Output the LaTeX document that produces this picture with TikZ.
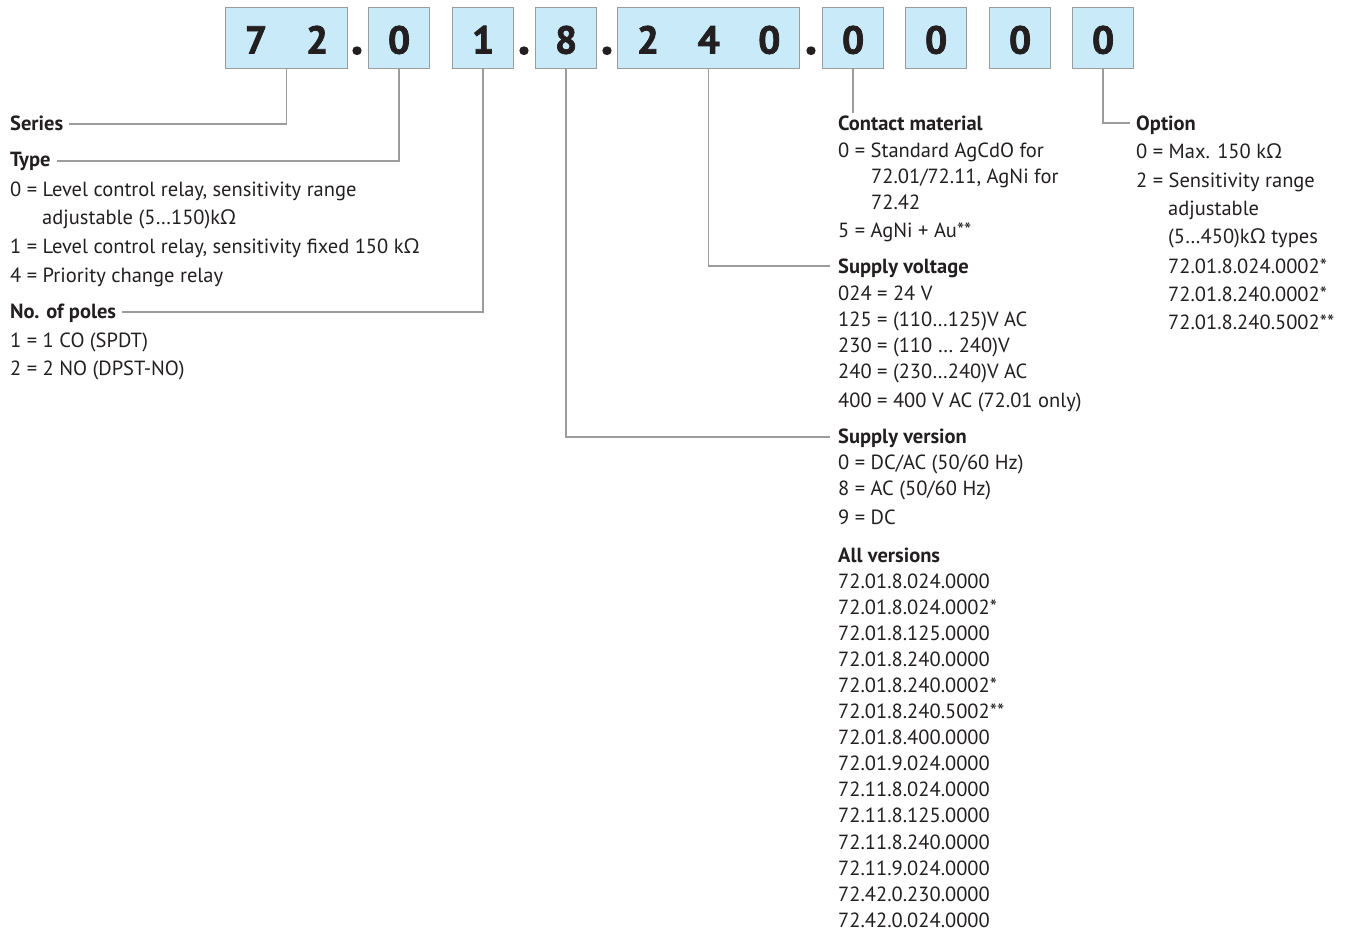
\documentclass[tikz,border=0pt]{standalone}
\usepackage{fontspec}
\setmainfont{PT Sans}
\newfontfamily\grkfont{Open Sans}
\newfontfamily\digfont{PT Sans}[BoldFeatures={FakeBold=2}]
\newcommand\Om{{\grkfont Ω}}
\usetikzlibrary{calc}
\definecolor{ink}{HTML}{231F20}
\definecolor{boxfill}{HTML}{C8EAF9}
\definecolor{boxline}{HTML}{9C9C9C}
\definecolor{conncol}{HTML}{9C9C9C}
\begin{document}
\begin{tikzpicture}[x=1pt,y=-1pt,
  txt/.style={anchor=base west, inner sep=0pt, text=ink, font=\fontsize{20.5}{24}\selectfont},
  hd/.style={txt, font=\fontsize{20.5}{24}\selectfont\bfseries},
  cell/.style={draw=boxline, fill=boxfill, line width=1.2pt, inner sep=0pt,
    minimum height=61pt, text height=31pt, text depth=0pt, text=ink,
    font=\digfont\fontsize{39}{39}\selectfont\bfseries, anchor=north west},
  sep/.style={anchor=base, inner sep=0pt, text=ink, font=\digfont\fontsize{50}{50}\selectfont\bfseries},
  conn/.style={draw=conncol, line width=1.3pt}]
\useasboundingbox (0,0) rectangle (1349,932);

% code boxes
\node[cell] (b72)  at (225,7) {\makebox[61pt]{7}\makebox[61pt]{2}};
\node[sep]  (d1)   at (357,54) {.};
\node[cell] (b0)   at (368,7) {\makebox[61pt]{0}};
\node[cell] (b1)   at (452,7) {\makebox[61pt]{1}};
\node[sep]  (d2)   at (524,54) {.};
\node[cell] (b8)   at (535,7) {\makebox[61pt]{8}};
\node[sep]  (d3)   at (607,54) {.};
\node[cell] (b240) at (617,7) {\makebox[60.7pt]{2}\makebox[60.7pt]{4}\makebox[60.7pt]{0}};
\node[sep]  (d4)   at (811,54) {.};
\node[cell] (bc)   at (822,7) {\makebox[61pt]{0}};
\node[cell] (bo1)  at (905,7) {\makebox[61pt]{0}};
\node[cell] (bo2)  at (989,7) {\makebox[61pt]{0}};
\node[cell] (bo3)  at (1072,7) {\makebox[61pt]{0}};

% left column
\node[hd]  (series) at (10,130) {Series};
\node[hd]  (type)   at (10,166) {Type};
\node[txt] (t0)  at (10,196) {0 = Level control relay, sensitivity range};
\node[txt] (t0b) at (42,224) {adjustable (5…150)k\Om};
\node[txt] (t1)  at (10,253) {1 = Level control relay, sensitivity fixed 150 k\Om};
\node[txt] (t4)  at (10,282) {4 = Priority change relay};
\node[hd]  (poles) at (10,318) {No. of poles};
\node[txt] (p1)  at (10,347) {1 = 1 CO (SPDT)};
\node[txt] (p2)  at (10,375) {2 = 2 NO (DPST-NO)};

% middle column
\node[hd]  (cm)  at (838,130) {Contact material};
\node[txt] (c0)  at (838,157) {0 = Standard AgCdO for};
\node[txt] (c0b) at (871,183) {72.01/72.11, AgNi for};
\node[txt] (c0c) at (871,209) {72.42};
\node[txt] (c5)  at (838,237) {5 = AgNi + Au**};
\node[hd]  (volt) at (838,273) {Supply voltage};
\node[txt] (v1) at (838,300) {024 = 24 V};
\node[txt] (v2) at (838,326) {125 = (110…125)V AC};
\node[txt] (v3) at (838,352) {230 = (110 … 240)V};
\node[txt] (v4) at (838,378) {240 = (230…240)V AC};
\node[txt] (v5) at (838,407) {400 = 400 V AC (72.01 only)};
\node[hd]  (sver) at (838,443) {Supply version};
\node[txt] (s0) at (838,469) {0 = DC/AC (50/60 Hz)};
\node[txt] (s8) at (838,495) {8 = AC (50/60 Hz)};
\node[txt] (s9) at (838,524) {9 = DC};
\node[hd]  (allv) at (838,562) {All versions};
\foreach \t [count=\i from 0] in {72.01.8.024.0000,72.01.8.024.0002*,72.01.8.125.0000,
  72.01.8.240.0000,72.01.8.240.0002*,72.01.8.240.5002**,72.01.8.400.0000,72.01.9.024.0000,
  72.11.8.024.0000,72.11.8.125.0000,72.11.8.240.0000,72.11.9.024.0000,72.42.0.230.0000,
  72.42.0.024.0000}
  \node[txt] (av\i) at (838,{588+26.1*\i}) {\t};

% option column
\node[hd]  (opt) at (1136,130) {Option};
\node[txt] (o0)  at (1136,158) {0 = Max. 150 k\Om};
\node[txt] (o2)  at (1136,187) {2 = Sensitivity range};
\node[txt] (o2b) at (1168,215) {adjustable};
\node[txt] (o2c) at (1168,243) {(5…450)k\Om{} types};
\node[txt] (o2d) at (1168,273) {72.01.8.024.0002*};
\node[txt] (o2e) at (1168,301) {72.01.8.240.0002*};
\node[txt] (o2f) at (1168,329) {72.01.8.240.5002**};

% connectors
\draw[conn] (b72.south) |- ([xshift=6pt,yshift=6pt]series.base east);
\draw[conn] (b0.south) |- ([xshift=6pt,yshift=5pt]type.base east);
\draw[conn] (b1.south) |- ([xshift=6pt,yshift=6pt]poles.base east);
\draw[conn] (b8.south) |- ([xshift=-8pt,yshift=6pt]sver.base west);
\draw[conn] (b240.south) |- ([xshift=-8pt,yshift=7pt]volt.base west);
\draw[conn] (bc.south) -- ($(bc.south |- cm.north)+(0,-2)$);
\draw[conn] (bo3.south) |- ([xshift=-6pt,yshift=7pt]opt.base west);
\end{tikzpicture}
\end{document}
